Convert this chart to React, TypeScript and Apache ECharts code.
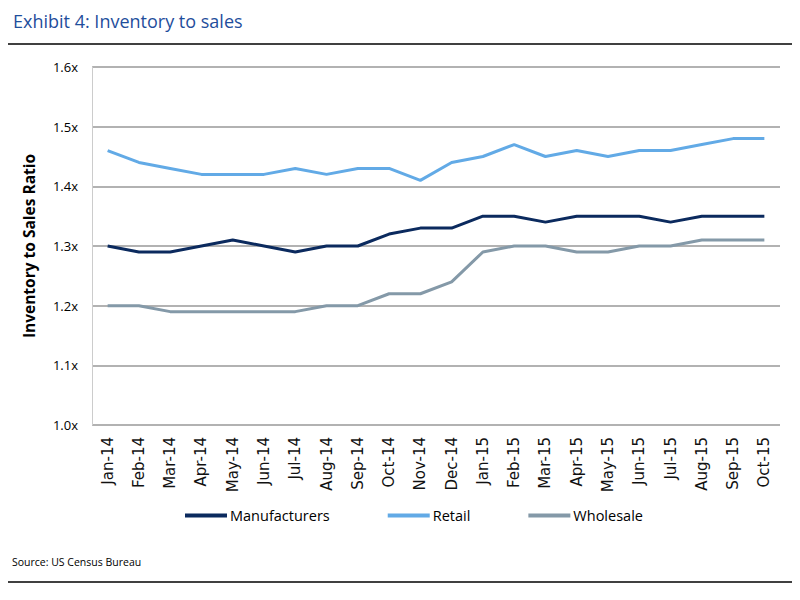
import React, { useEffect, useRef } from "react";
import * as echarts from "echarts";

const categories = ["Jan-14","Feb-14","Mar-14","Apr-14","May-14","Jun-14","Jul-14","Aug-14","Sep-14","Oct-14","Nov-14","Dec-14","Jan-15","Feb-15","Mar-15","Apr-15","May-15","Jun-15","Jul-15","Aug-15","Sep-15","Oct-15"];
const manufacturers = [1.30,1.29,1.29,1.30,1.31,1.30,1.29,1.30,1.30,1.32,1.33,1.33,1.35,1.35,1.34,1.35,1.35,1.35,1.34,1.35,1.35,1.35];
const retail = [1.46,1.44,1.43,1.42,1.42,1.42,1.43,1.42,1.43,1.43,1.41,1.44,1.45,1.47,1.45,1.46,1.45,1.46,1.46,1.47,1.48,1.48];
const wholesale = [1.20,1.20,1.19,1.19,1.19,1.19,1.19,1.20,1.20,1.22,1.22,1.24,1.29,1.30,1.30,1.29,1.29,1.30,1.30,1.31,1.31,1.31];

export default function App() {
  const ref = useRef<HTMLDivElement>(null);
  useEffect(() => {
    const chart = echarts.init(ref.current!, null, { renderer: "svg" });
    const font = "'Open Sans', 'Liberation Sans', sans-serif";
    chart.setOption({
      animation: false,
      backgroundColor: "#fff",
      title: {
        text: "Exhibit 4: Inventory to sales",
        left: 0,
        top: -1,
        textStyle: { color: "#1F4E9C", fontFamily: font, fontSize: 18, fontWeight: "normal" },
      },
      graphic: [
        { type: "line", shape: { x1: 0, y1: 36, x2: 792, y2: 36 }, style: { stroke: "#000", lineWidth: 1.5 } },
        { type: "line", shape: { x1: -3, y1: 574, x2: 787, y2: 574 }, style: { stroke: "#000", lineWidth: 1.5 } },
        { type: "text", left: 4, top: 548, style: { text: "Source: US Census Bureau", fill: "#000", font: `10.5px ${font}` } },
      ],
      legend: {
        top: 495,
        left: 172,
        itemGap: 58,
        itemWidth: 42,
        itemHeight: 4,
        icon: "rect",
        textStyle: { fontFamily: font, fontSize: 14.5, color: "#000", padding: [0, 0, 0, -2] },
        data: ["Manufacturers", "Retail", "Wholesale"],
      },
      grid: { left: 84, right: 20, top: 59, bottom: 167 },
      xAxis: {
        type: "category",
        data: categories,
        boundaryGap: true,
        axisLine: { show: false },
        axisTick: { show: false },
        axisLabel: { rotate: 90, interval: 0, fontFamily: "'DejaVu Sans', sans-serif", fontSize: 15, color: "#111", margin: 12 },
      },
      yAxis: {
        type: "value",
        min: 1.0,
        max: 1.6,
        interval: 0.1,
        name: "Inventory to Sales Ratio",
        nameLocation: "middle",
        nameGap: 55,
        nameRotate: 90,
        nameTextStyle: { fontFamily: font, fontSize: 15.5, fontWeight: "bold", color: "#000" },
        axisLine: { show: true, lineStyle: { color: "#ccc", width: 1 } },
        axisTick: { show: false },
        splitLine: { lineStyle: { color: "#999", width: 1.5 } },
        axisLabel: { formatter: (v: number) => v.toFixed(1) + "x", fontFamily: font, fontSize: 13, color: "#000", margin: 14 },
      },
      series: [
        { name: "Manufacturers", type: "line", data: manufacturers, symbol: "none", lineStyle: { color: "#0B2A5E", width: 3 }, itemStyle: { color: "#0B2A5E" } },
        { name: "Retail", type: "line", data: retail, symbol: "none", lineStyle: { color: "#62AAE6", width: 3 }, itemStyle: { color: "#62AAE6" } },
        { name: "Wholesale", type: "line", data: wholesale, symbol: "none", lineStyle: { color: "#8499A8", width: 3 }, itemStyle: { color: "#8499A8" } },
      ],
    });
    return () => chart.dispose();
  }, []);
  return <div ref={ref} style={{ width: 792, height: 584 }} />;
}
